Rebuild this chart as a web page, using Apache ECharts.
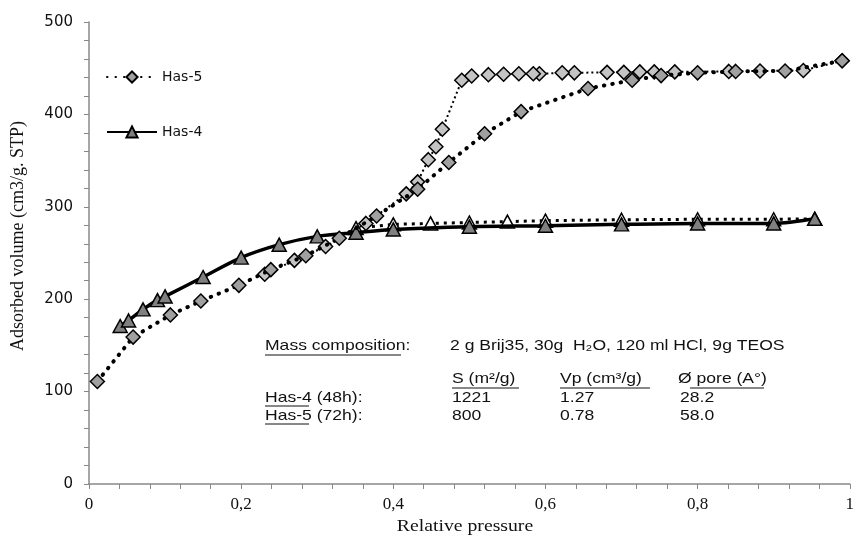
<!DOCTYPE html>
<html>
<head>
<meta charset="utf-8">
<script src="https://cdn.jsdelivr.net/npm/echarts@6/dist/echarts.min.js"></script>
<style>
html, body { margin: 0; padding: 0; background: #fff; }
#main { width: 857px; height: 539px; }
</style>
</head>
<body>
<div id="main"></div>
<script>
// Has-5 adsorption branch (relative pressure, volume)
var has5AdsP = [0.011, 0.058, 0.107, 0.147, 0.197, 0.239, 0.285, 0.329, 0.378, 0.432, 0.473, 0.520, 0.568, 0.656, 0.714, 0.752, 0.800, 0.850, 0.915, 0.990];
var has5AdsV = [111, 159, 183, 198, 215, 232, 247, 266, 290, 319, 348, 379, 403, 428, 437, 442, 445, 446.5, 447, 458];
// Has-5 desorption branch
var has5DesP = [0.990, 0.939, 0.882, 0.841, 0.770, 0.743, 0.724, 0.703, 0.681, 0.638, 0.622, 0.592, 0.584, 0.565, 0.545, 0.525, 0.503, 0.490, 0.4645, 0.456, 0.446, 0.432, 0.417, 0.364, 0.311, 0.270, 0.231];
var has5DesV = [458, 447.5, 447, 446.5, 446, 446, 446, 445.5, 445.5, 445, 445, 444, 444, 444, 443.5, 443, 441.5, 437, 384, 365, 351, 327, 314, 282, 257, 242, 227];
// Has-4 adsorption branch
var has4AdsP = [0.041, 0.052, 0.071, 0.090, 0.100, 0.150, 0.200, 0.250, 0.300, 0.351, 0.400, 0.500, 0.600, 0.700, 0.800, 0.900, 0.954];
var has4AdsV = [171, 177, 189, 199, 203, 224, 245, 259, 268, 272, 275.5, 278.5, 279.5, 281, 282, 282, 287];
// Has-4 desorption branch
var has4DesP = [0.954, 0.900, 0.800, 0.700, 0.600, 0.550, 0.500, 0.449, 0.400, 0.351];
var has4DesV = [287, 286.5, 286.5, 286, 285, 284, 283, 282, 281, 277];

var yTicks = [0, 100, 200, 300, 400, 500];

// texte du tableau
var massLabel = 'Mass composition';
var massText = '2 g Brij35, 30g  H\u2082O, 120 ml HCl, 9g TEOS';
var colHeads = ['S (m\u00b2/g)', 'Vp (cm\u00b3/g)', '\u00d8 pore (A\u00b0)'];
var rowNames = ['Has-4', 'Has-5'];
var rowSuffix = [' (48h):', ' (72h):'];
var rowVals = [['1221', '1.27', '28.2'], ['800', '0.78', '58.0']];

function pairs(xs, ys) {
	var out = [];
	for (var i = 0; i < xs.length; i++) {
		out.push([xs[i], ys[i]]);
	}
	return out;
}

var sansFont = 'Liberation Sans';
var wideSans = 'DejaVu Sans';
var serifFont = 'Liberation Serif';

// annotations (texte + soulignement)
var graphics = [];
function addText(x, y, txt) {
	graphics.push({
		type: 'text', x: x, y: y, scaleX: 1.17, scaleY: 1,
		style: { text: txt, font: '15px "' + sansFont + '"', fill: '#111', verticalAlign: 'middle' }
	});
}
function addLine(x1, x2, y) {
	graphics.push({
		type: 'line',
		shape: { x1: x1, y1: y, x2: x2, y2: y },
		style: { stroke: '#111', lineWidth: 1 }
	});
}
addText(265, 346, massLabel + ':');
addLine(265, 401, 355);
addText(450, 346, massText);
var colX = [452, 560, 678];
for (var c = 0; c < colHeads.length; c++) {
	addText(colX[c], 379, colHeads[c]);
}
addLine(452, 519, 388);
addLine(560, 650, 388);
addLine(690, 764, 388);
for (var r = 0; r < rowNames.length; r++) {
	var ty = 398 + r * 18;
	addText(265, ty, rowNames[r] + rowSuffix[r]);
	addLine(265, 309, ty + 8);
	for (var k = 0; k < 3; k++) {
		addText(colX[k] + (k == 2 ? 2 : 0), ty, rowVals[r][k]);
	}
}
// titres des axes
graphics.push({
	type: 'text', x: 465, y: 527, scaleX: 1.16, scaleY: 1,
	style: { text: 'Relative pressure', font: '17px "' + serifFont + '"', fill: '#111', align: 'center', verticalAlign: 'middle' }
});
graphics.push({
	type: 'text', x: 18, y: 236, rotation: Math.PI / 2,
	style: { text: 'Adsorbed volume (cm3/g. STP)', font: '18px "' + serifFont + '"', fill: '#111', align: 'center', verticalAlign: 'middle' }
});

var chart = echarts.init(document.getElementById('main'), null, { renderer: 'canvas' });
var option = {
	backgroundColor: '#fff',
	animation: false,
	grid: { left: 89, right: -2, top: 22, bottom: 55 },
	legend: {
		data: ['Has-5', 'Has-4'],
		orient: 'vertical',
		left: 101,
		top: 65,
		itemWidth: 50,
		itemHeight: 14,
		itemGap: 41,
		textStyle: { fontFamily: wideSans, fontSize: 14, color: '#111' }
	},
	xAxis: {
		type: 'value',
		min: 0,
		max: 1,
		interval: 0.2,
		axisLine: { lineStyle: { color: '#888', width: 1.5 } },
		axisTick: { show: true, length: 5, lineStyle: { color: '#888' } },
		minorTick: { show: true, splitNumber: 5, length: 5, lineStyle: { color: '#888' } },
		splitLine: { show: false },
		axisLabel: {
			fontFamily: serifFont, fontSize: 17, color: '#111', margin: 12,
			formatter: function(v) { return String(v).replace('.', ','); }
		}
	},
	yAxis: {
		type: 'value',
		min: yTicks[0],
		max: yTicks[yTicks.length - 1],
		interval: 100,
		axisLine: { show: true, lineStyle: { color: '#888', width: 1.5 } },
		axisTick: { show: true, length: 5, lineStyle: { color: '#888' } },
		minorTick: { show: true, splitNumber: 5, length: 5, lineStyle: { color: '#888' } },
		splitLine: { show: false },
		axisLabel: { fontFamily: wideSans, fontSize: 15, color: '#111', margin: 16 }
	},
	graphic: graphics,
	series: [{
		name: 'Has-4 des',
		type: 'line',
		data: pairs(has4DesP, has4DesV),
		symbol: 'triangle',
		symbolSize: [14, 13],
		lineStyle: { color: '#000', width: 3, type: [3, 5] },
		itemStyle: { color: '#fff', borderColor: '#000', borderWidth: 1.5 },
		z: 2
	}, {
		name: 'Has-4',
		type: 'line',
		smooth: 0.3,
		data: pairs(has4AdsP, has4AdsV),
		symbol: 'triangle',
		symbolSize: [14, 13],
		lineStyle: { color: '#000', width: 3.5 },
		itemStyle: { color: '#808080', borderColor: '#000', borderWidth: 1.5 },
		z: 3
	}, {
		name: 'Has-5 des',
		type: 'line',
		data: pairs(has5DesP, has5DesV),
		symbol: 'diamond',
		symbolSize: [14, 14],
		lineStyle: { color: '#000', width: 2, type: [2, 3] },
		itemStyle: { color: '#c4c4c4', borderColor: '#000', borderWidth: 1.5 },
		z: 4
	}, {
		name: 'Has-5',
		type: 'line',
		data: pairs(has5AdsP, has5AdsV),
		symbol: 'diamond',
		symbolSize: [14, 14],
		lineStyle: { color: '#000', width: 4, type: [0.5, 8], cap: 'round' },
		itemStyle: { color: '#a0a0a0', borderColor: '#000', borderWidth: 1.5 },
		z: 5
	}]
};
chart.setOption(option);
</script>
</body>
</html>
